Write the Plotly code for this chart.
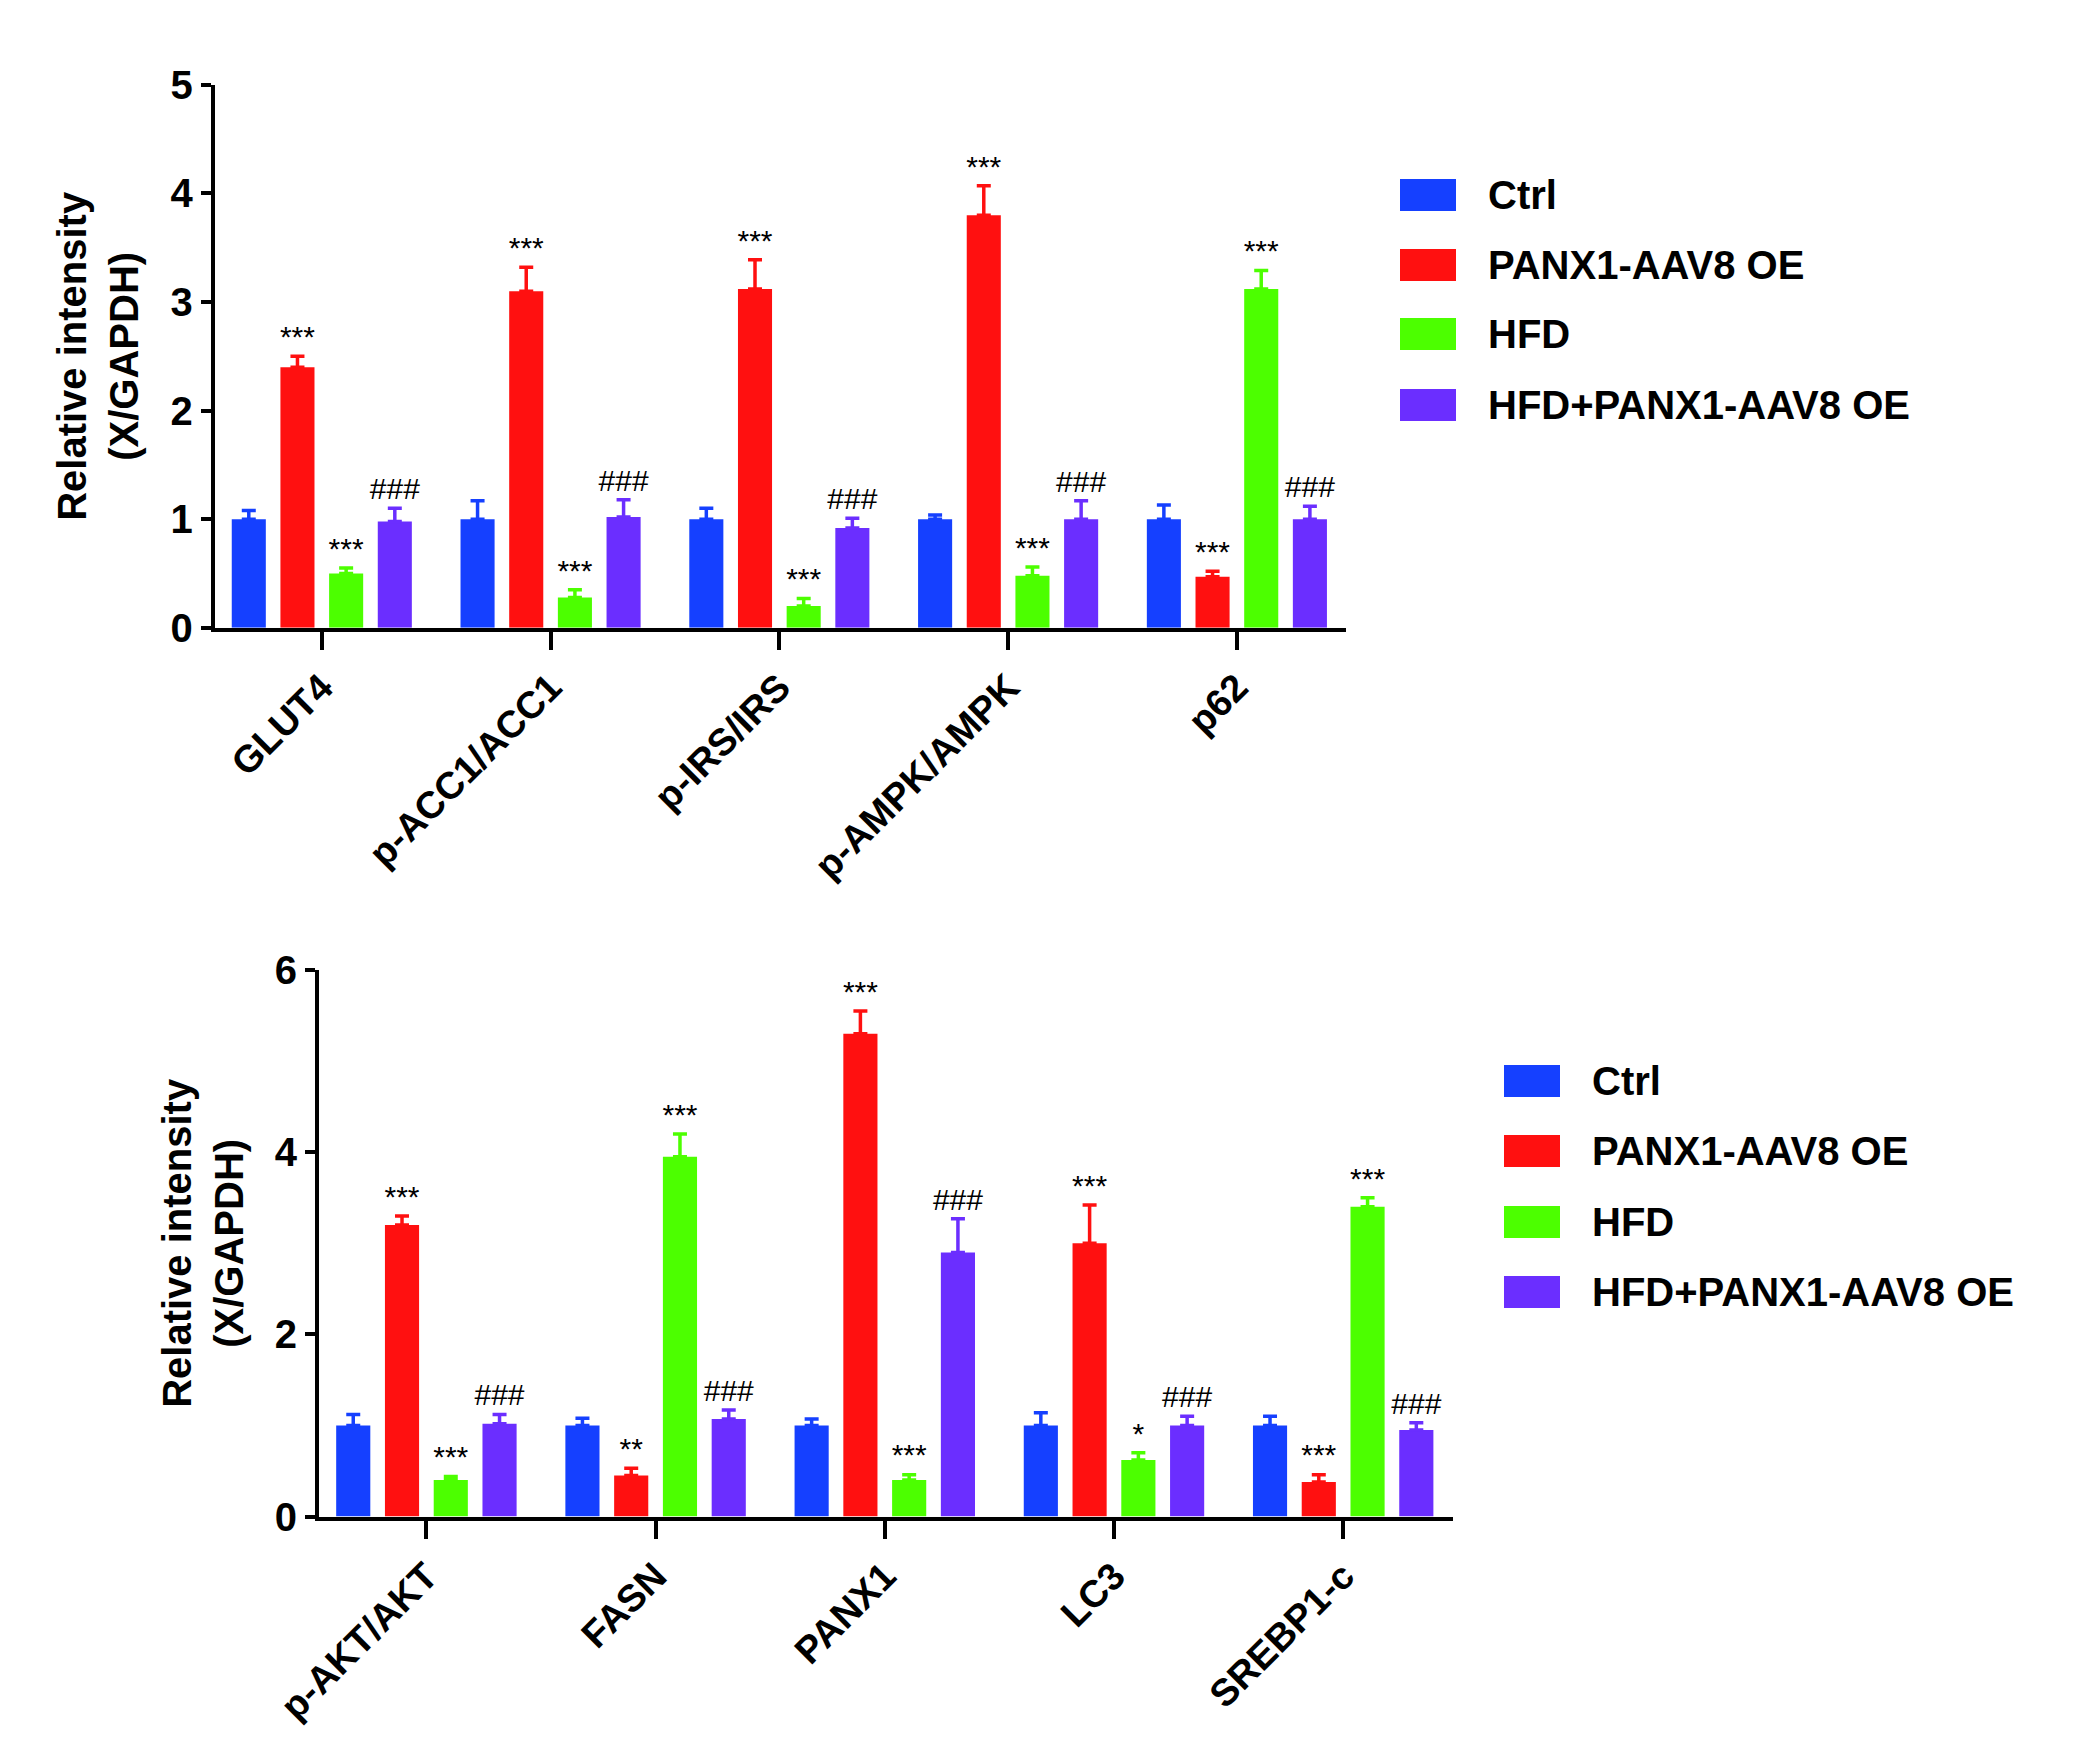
import plotly.graph_objects as go

groups = ["Ctrl", "PANX1-AAV8 OE", "HFD", "HFD+PANX1-AAV8 OE"]
colors = ["#1540FF", "#FF1010", "#4CFF00", "#6B2EFF"]

cats1 = ["GLUT4", "p-ACC1/ACC1", "p-IRS/IRS", "p-AMPK/AMPK", "p62"]
vals1 = [[1.0, 1.0, 1.0, 1.0, 1.0],
         [2.4, 3.1, 3.12, 3.8, 0.47],
         [0.5, 0.28, 0.2, 0.48, 3.12],
         [0.98, 1.02, 0.92, 1.0, 1.0]]
errs1 = [[0.08, 0.17, 0.1, 0.04, 0.13],
         [0.1, 0.22, 0.27, 0.27, 0.05],
         [0.05, 0.07, 0.07, 0.08, 0.17],
         [0.12, 0.16, 0.09, 0.17, 0.12]]
sig1 = [["", "", "", "", ""],
        ["***", "***", "***", "***", "***"],
        ["***", "***", "***", "***", "***"],
        ["###", "###", "###", "###", "###"]]

cats2 = ["p-AKT/AKT", "FASN", "PANX1", "LC3", "SREBP1-c"]
vals2 = [[1.0, 1.0, 1.0, 1.0, 1.0],
         [3.2, 0.45, 5.3, 3.0, 0.38],
         [0.4, 3.95, 0.4, 0.62, 3.4],
         [1.02, 1.07, 2.9, 1.0, 0.95]]
errs2 = [[0.12, 0.08, 0.07, 0.14, 0.1],
         [0.1, 0.08, 0.25, 0.42, 0.08],
         [0.04, 0.25, 0.06, 0.08, 0.1],
         [0.1, 0.1, 0.37, 0.1, 0.08]]
sig2 = [["", "", "", "", ""],
        ["***", "**", "***", "***", "***"],
        ["***", "***", "***", "*", "***"],
        ["###", "###", "###", "###", "###"]]

yticks1 = [0, 1, 2, 3, 4, 5]
yticks2 = [0, 2, 4, 6]

SP = 4.7
FONT = "Liberation Sans"
NARROW = "Liberation Sans Narrow, Liberation Sans"
W, H = 2088, 1746
fig = go.Figure()

def add_panel(cats, vals, errs, sigs, xa, ya, ymax):
    for j, g in enumerate(groups):
        xs = [i * SP + j for i in range(len(cats))]
        fig.add_trace(go.Bar(
            x=xs, y=vals[j], width=0.7, name=g, marker_color=colors[j],
            marker_line_width=0, xaxis=xa, yaxis=ya, showlegend=False,
            error_y=dict(type="data", array=errs[j], arrayminus=[0] * len(cats),
                         symmetric=False, color=colors[j], thickness=3.5, width=7)))
        fig.add_trace(go.Scatter(
            x=xs, y=[v + e + ymax * 0.003 for v, e in zip(vals[j], errs[j])],
            text=sigs[j], mode="text", textposition="top center",
            textfont=dict(size=30, family=NARROW, color="black"),
            showlegend=False, xaxis=xa, yaxis=ya, hoverinfo="skip"))

add_panel(cats1, vals1, errs1, sig1, "x", "y", 5)
add_panel(cats2, vals2, errs2, sig2, "x2", "y2", 6)

xrange = [-0.7, 4 * SP + 3 + 0.75]
common_x = dict(range=xrange, showline=True, linecolor="black", linewidth=4,
                ticks="outside", ticklen=18, tickwidth=4, tickcolor="black",
                tickangle=-45, tickfont=dict(family=FONT, size=38, color="black"),
                showgrid=False, zeroline=False, automargin=False)
common_y = dict(showline=True, linecolor="black", linewidth=4, ticks="outside",
                ticklen=10, tickwidth=4, tickcolor="black",
                tickfont=dict(family=NARROW, size=40, color="black"),
                showgrid=False, zeroline=False, automargin=False)
ytitle = dict(text="<b>Relative intensity<br>(X/GAPDH)</b>",
              font=dict(family=FONT, size=40, color="black"), standoff=20)

fig.update_layout(
    width=W, height=H, margin=dict(l=0, r=0, t=0, b=0),
    plot_bgcolor="white", paper_bgcolor="white", barmode="overlay",
    xaxis=dict(domain=[0.099, 0.641], anchor="y",
               tickvals=[i * SP + 1.5 for i in range(5)],
               ticktext=["<b>%s</b>" % c for c in cats1], **common_x),
    yaxis=dict(domain=[0.645, 0.956], anchor="x", range=[0, 5],
               tickvals=yticks1, ticktext=["<b>%d</b>" % t for t in yticks1],
               title=ytitle, **common_y),
    xaxis2=dict(domain=[0.149, 0.692], anchor="y2",
                tickvals=[i * SP + 1.5 for i in range(5)],
                ticktext=["<b>%s</b>" % c for c in cats2], **common_x),
    yaxis2=dict(domain=[0.136, 0.449], anchor="x2", range=[0, 6],
                tickvals=yticks2, ticktext=["<b>%d</b>" % t for t in yticks2],
                title=ytitle, **common_y),
)

def manual_legend(x0, x1, xt, centers):
    for g, c, yc in zip(groups, colors, centers):
        fig.add_shape(type="rect", xref="paper", yref="paper",
                      x0=x0 / W, x1=x1 / W, y0=1 - (yc + 16) / H, y1=1 - (yc - 16) / H,
                      fillcolor=c, line_width=0)
        fig.add_annotation(xref="paper", yref="paper", x=xt / W, y=1 - yc / H,
                           xanchor="left", yanchor="middle", showarrow=False,
                           text="<b>%s</b>" % g,
                           font=dict(family=FONT, size=40, color="black"))

manual_legend(1392, 1448, 1478, [187, 257, 326, 397])
manual_legend(1496, 1552, 1582, [1073, 1143, 1214, 1284])

fig.write_html("out.html")
